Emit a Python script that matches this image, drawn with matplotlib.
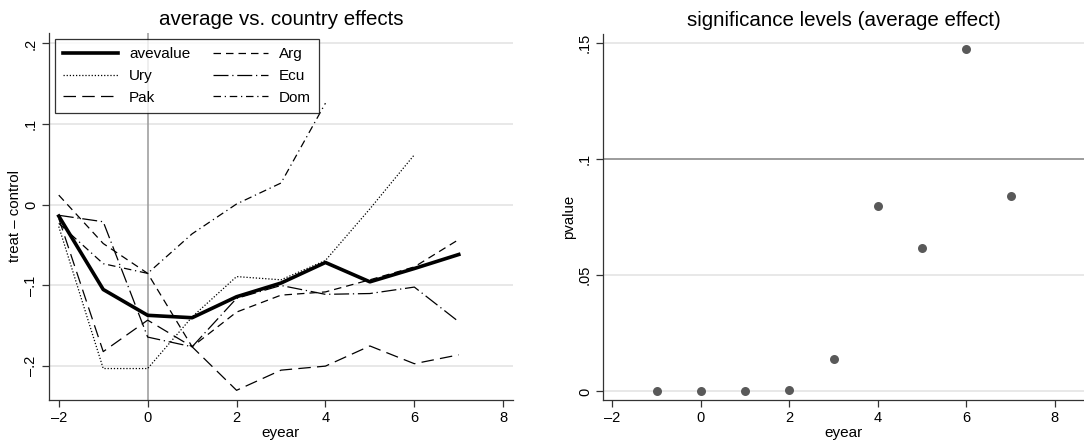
import matplotlib
matplotlib.use('Agg')
import matplotlib.pyplot as plt
import numpy as np

plt.rcParams['font.family'] = ['Liberation Sans', 'DejaVu Sans']

# data
eyear = [-2, -1, 0, 1, 2, 3, 4, 5, 6, 7]
avevalue = [-0.014, -0.105, -0.137, -0.140, -0.114, -0.097, -0.0715, -0.0955, -0.079, -0.0616]
arg = [0.012, -0.048, -0.085, -0.176, -0.133, -0.112, -0.108, -0.093, -0.077, -0.043]
ury = [-0.027, -0.203, -0.203, -0.139, -0.089, -0.093, -0.069, -0.005, 0.062]
ecu = [-0.013, -0.021, -0.164, -0.176, -0.116, -0.100, -0.111, -0.110, -0.102, -0.145]
pak = [-0.017, -0.182, -0.143, -0.176, -0.230, -0.205, -0.200, -0.175, -0.197, -0.186]
dom = [-0.023, -0.073, -0.085, -0.036, 0.001, 0.027, 0.126]

p_year = [-1, 0, 1, 2, 3, 4, 5, 6, 7]
pvalue = [0.0, 0.0, 0.0, 0.0007, 0.0141, 0.080, 0.0618, 0.1476, 0.0841]

yticks_left = [-0.2, -0.1, 0, 0.1, 0.2]
yticklabels_left = ['\u2013.2', '\u2013.1', '0', '.1', '.2']
yticks_right = [0, 0.05, 0.1, 0.15]
yticklabels_right = ['0', '.05', '.1', '.15']
xticks = [-2, 0, 2, 4, 6, 8]
xticklabels = ['\u20132', '0', '2', '4', '6', '8']

GRID = '#e6e6e6'


def style_axes(ax):
    for side in ['top', 'right']:
        ax.spines[side].set_visible(False)
    for side in ['left', 'bottom']:
        ax.spines[side].set_color('#333333')
        ax.spines[side].set_linewidth(0.9)
    ax.tick_params(direction='out', length=5, width=0.9, color='#333333',
                   labelsize=10.5, pad=3)
    ax.set_xticks(xticks)
    ax.set_xticklabels(xticklabels)
    for lab in ax.get_yticklabels():
        lab.set_rotation(90)
        lab.set_va('center')


fig = plt.figure(figsize=(10.84, 4.43), dpi=100)

# left panel: average vs country effects
ax1 = fig.add_axes([49 / 1084, 43 / 443, 464 / 1084, 367 / 443])
for y in yticks_left:
    ax1.axhline(y, color=GRID, lw=1.3, zorder=0)
ax1.axvline(0, color='#999999', lw=1.1, zorder=0)

ax1.plot(eyear, avevalue, color='black', lw=2.6, label='avevalue', zorder=5)
ax1.plot(eyear[:len(ury)], ury, color='black', lw=0.9, ls=(0, (1, 1.5)), label='Ury')
ax1.plot(eyear, pak, color='black', lw=0.9, ls=(0, (10, 5)), label='Pak')
ax1.plot(eyear, arg, color='black', lw=0.9, ls=(0, (6, 4)), label='Arg')
ax1.plot(eyear, ecu, color='black', lw=0.9, ls=(0, (12, 3, 1, 3)), label='Ecu')
ax1.plot(eyear[:len(dom)], dom, color='black', lw=0.9, ls=(0, (6, 3, 1, 3)), label='Dom')

ax1.set_xlim(-2.22, 8.22)
ax1.set_ylim(-0.242, 0.213)
ax1.set_yticks(yticks_left)
ax1.set_yticklabels(yticklabels_left)
style_axes(ax1)
ax1.set_xlabel('eyear', fontsize=11, labelpad=1)
ax1.set_ylabel('treat \u2013 control', fontsize=10.8, labelpad=1)
ax1.set_title('average vs. country effects', fontsize=14.8, pad=6)

leg = ax1.legend(loc='upper left', ncol=2, fontsize=11, frameon=True,
                 fancybox=False, edgecolor='black', handlelength=3.6,
                 columnspacing=1.5, handletextpad=0.7, borderpad=0.55,
                 labelspacing=0.5, borderaxespad=0,
                 bbox_to_anchor=(0.013, 0.984))
leg.get_frame().set_linewidth(0.9)

# right panel: significance levels
ax2 = fig.add_axes([603 / 1084, 43 / 443, 481 / 1084, 366 / 443])
for y in yticks_right:
    ax2.axhline(y, color=GRID, lw=1.3, zorder=0)
ax2.axhline(0.1, color='#888888', lw=1.1, zorder=1)
ax2.scatter(p_year, pvalue, s=42, color='#595959', zorder=3, linewidths=0)

ax2.set_xlim(-2.21, 8.66)
ax2.set_ylim(-0.0037, 0.1539)
ax2.set_yticks(yticks_right)
ax2.set_yticklabels(yticklabels_right)
style_axes(ax2)
ax2.set_xlabel('eyear', fontsize=11, labelpad=1)
ax2.set_ylabel('pvalue', fontsize=10.8, labelpad=1)
ax2.set_title('significance levels (average effect)', fontsize=14.8, pad=6)

fig.savefig('out.png', dpi=100)
